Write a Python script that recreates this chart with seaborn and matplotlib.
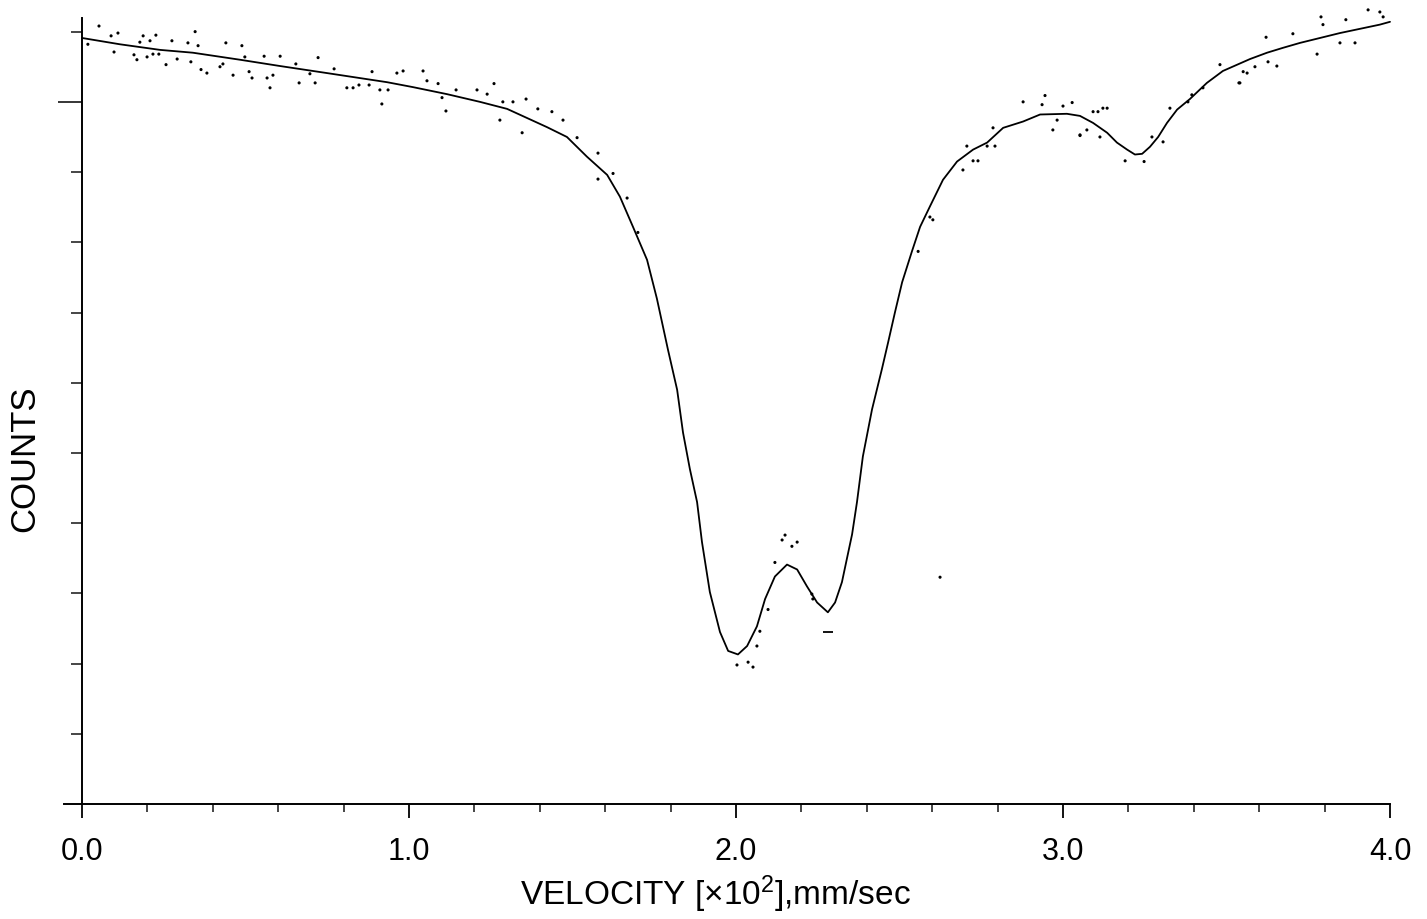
import numpy as np
import pandas as pd
import matplotlib
matplotlib.use("Agg")
import matplotlib.pyplot as plt
import seaborn as sns
from matplotlib.ticker import FixedLocator

# ---- fitted curve (velocity x10^2 mm/s, counts in tick units) ----
fit_x = [0.000, 0.116, 0.239, 0.339, 0.483, 0.606, 0.749, 0.933, 1.012, 1.116,
         1.217, 1.300, 1.361, 1.422, 1.483, 1.544, 1.606, 1.645, 1.685, 1.728,
         1.758, 1.792, 1.820, 1.838, 1.859, 1.881, 1.896, 1.920, 1.951, 1.976,
         2.006, 2.034, 2.064, 2.089, 2.119, 2.156, 2.187, 2.217, 2.248, 2.281,
         2.303, 2.324, 2.339, 2.355, 2.370, 2.388, 2.416, 2.446, 2.465, 2.486,
         2.508, 2.538, 2.563, 2.593, 2.633, 2.676, 2.725, 2.768, 2.817, 2.878,
         2.930, 3.012, 3.052, 3.092, 3.135, 3.165, 3.196, 3.220, 3.242, 3.266,
         3.291, 3.318, 3.349, 3.388, 3.440, 3.489, 3.572, 3.624, 3.673, 3.725,
         3.786, 3.847, 3.908, 3.969, 4.000]
fit_y = [10.91, 10.82, 10.74, 10.70, 10.60, 10.51, 10.41, 10.28, 10.21, 10.11,
         10.00, 9.90, 9.77, 9.64, 9.50, 9.22, 8.96, 8.65, 8.22, 7.75,
         7.20, 6.47, 5.90, 5.29, 4.77, 4.30, 3.73, 3.02, 2.45, 2.18,
         2.13, 2.25, 2.53, 2.92, 3.24, 3.41, 3.34, 3.10, 2.87, 2.73,
         2.87, 3.16, 3.49, 3.84, 4.30, 4.95, 5.62, 6.19, 6.57, 7.00,
         7.43, 7.87, 8.22, 8.51, 8.89, 9.15, 9.32, 9.42, 9.63, 9.72,
         9.82, 9.83, 9.80, 9.70, 9.56, 9.42, 9.32, 9.25, 9.26, 9.36,
         9.50, 9.70, 9.89, 10.04, 10.27, 10.44, 10.61, 10.70, 10.77, 10.84,
         10.91, 10.98, 11.04, 11.10, 11.14]

pts_x = [0.052, 0.018, 0.089, 0.110, 0.098, 0.159, 0.168, 0.187, 0.177, 0.208,
         0.226, 0.217, 0.235, 0.199, 0.257, 0.275, 0.291, 0.324, 0.333, 0.346,
         0.355, 0.364, 0.382, 0.440, 0.422, 0.431, 0.462, 0.489, 0.498, 0.511,
         0.520, 0.557, 0.566, 0.575, 0.584, 0.606, 0.664, 0.654, 0.697, 0.713,
         0.722, 0.771, 0.810, 0.829, 0.847, 0.878, 0.887, 0.911, 0.917, 0.936,
         0.963, 0.982, 1.043, 1.055, 1.089, 1.101, 1.113, 1.144, 1.260, 1.208,
         1.239, 1.287, 1.318, 1.358, 1.394, 1.437, 1.471, 1.278, 1.346, 1.514,
         1.578, 1.578, 1.624, 1.667, 1.700,
         2.003, 2.037, 2.052, 2.064, 2.073, 2.098, 2.141, 2.150, 2.171, 2.187,
         2.119, 2.232, 2.235, 2.624,
         2.725, 2.740, 2.694, 2.706, 2.768, 2.792, 2.786, 2.878, 2.936, 2.945,
         2.969, 3.000, 3.028, 2.982, 3.052, 3.073, 3.107, 3.135, 2.602, 2.557,
         2.593, 3.052, 3.092, 3.122, 3.113, 3.190, 3.248, 3.272, 3.306, 3.382,
         3.428, 3.541, 3.480, 3.563, 3.621, 3.703, 3.789, 3.795, 3.865, 3.933,
         3.969, 3.979, 3.893, 3.847, 3.777, 3.654, 3.627, 3.587, 3.551, 3.538,
         3.394, 3.327]
pts_y = [11.08, 10.82, 10.94, 10.98, 10.71, 10.67, 10.60, 10.94, 10.85, 10.87,
         10.95, 10.68, 10.68, 10.64, 10.53, 10.87, 10.61, 10.84, 10.57, 11.00,
         10.80, 10.46, 10.41, 10.84, 10.50, 10.54, 10.38, 10.80, 10.64, 10.43,
         10.34, 10.65, 10.34, 10.20, 10.38, 10.65, 10.27, 10.54, 10.40, 10.27,
         10.63, 10.47, 10.20, 10.20, 10.24, 10.24, 10.43, 10.17, 9.97, 10.17,
         10.41, 10.44, 10.44, 10.30, 10.26, 10.06, 9.87, 10.17, 10.26, 10.17,
         10.11, 10.00, 10.00, 10.04, 9.90, 9.86, 9.74, 9.74, 9.56, 9.49,
         9.27, 8.90, 8.98, 8.63, 8.14,
         1.98, 2.02, 1.95, 2.25, 2.46, 2.77, 3.76, 3.83, 3.67, 3.73,
         3.44, 2.99, 2.92, 3.23,
         9.16, 9.16, 9.03, 9.37, 9.37, 9.37, 9.63, 10.00, 9.96, 10.09,
         9.60, 9.94, 9.99, 9.74, 9.53, 9.60, 9.86, 9.91, 8.32, 7.87,
         8.36, 9.52, 9.86, 9.91, 9.50, 9.16, 9.15, 9.50, 9.43, 10.00,
         10.20, 10.27, 10.53, 10.41, 10.92, 10.97, 11.21, 11.10, 11.17, 11.31,
         11.28, 11.21, 10.84, 10.84, 10.68, 10.51, 10.57, 10.50, 10.43, 10.27,
         10.10, 9.91]

# short dash mark below the second minimum
dash_x = [2.281]
dash_y = [2.45]

x_major = [0.0, 1.0, 2.0, 3.0, 4.0]
x_labels = ["0.0", "1.0", "2.0", "3.0", "4.0"]
x_minor = [0.2, 0.4, 0.6, 0.8, 1.2, 1.4, 1.6, 1.8, 2.2, 2.4, 2.6, 2.8,
           3.2, 3.4, 3.6, 3.8]
y_long_ticks = [10]
y_short_ticks = [1, 2, 3, 4, 5, 6, 7, 8, 9, 11]

sns.set_style("ticks")
plt.rcParams["font.family"] = ["Liberation Sans", "DejaVu Sans"]
plt.rcParams["mathtext.fontset"] = "custom"
plt.rcParams["mathtext.rm"] = "Liberation Sans"
plt.rcParams["mathtext.it"] = "Liberation Sans:italic"
plt.rcParams["mathtext.bf"] = "Liberation Sans:bold"

fig = plt.figure(figsize=(14.27, 9.2), dpi=100)
ax = fig.add_axes([64 / 1427, 115 / 920, 1326 / 1427, 786.4 / 920])

fit_df = pd.DataFrame({"v": fit_x, "c": fit_y})
pts_df = pd.DataFrame({"v": pts_x, "c": pts_y})
dash_df = pd.DataFrame({"v": dash_x, "c": dash_y})

sns.scatterplot(data=pts_df, x="v", y="c", ax=ax, s=5, color="black",
                edgecolor="none", clip_on=False, zorder=3)
sns.scatterplot(data=dash_df, x="v", y="c", ax=ax, s=60, marker="_",
                color="black", linewidth=1.3, zorder=3)
sns.lineplot(data=fit_df, x="v", y="c", ax=ax, estimator=None, sort=False,
             color="black", lw=1.3, clip_on=False, zorder=4)

ax.set_xlim(-0.055, 4.0)
ax.set_ylim(0, 11.2)
ax.spines["left"].set_position(("data", 0))
ax.spines["top"].set_visible(False)
ax.spines["right"].set_visible(False)
for s in ("left", "bottom"):
    ax.spines[s].set_linewidth(1.4)
    ax.spines[s].set_color("black")

ax.xaxis.set_major_locator(FixedLocator(x_major))
ax.xaxis.set_minor_locator(FixedLocator(x_minor))
ax.set_xticklabels(x_labels)
ax.yaxis.set_major_locator(FixedLocator(y_long_ticks))
ax.yaxis.set_minor_locator(FixedLocator(y_short_ticks))
ax.set_yticklabels([])

ax.tick_params(axis="x", which="major", direction="out", length=10, width=1.3,
               pad=13, labelsize=22, colors="black")
ax.tick_params(axis="x", which="minor", direction="out", length=6, width=1.2)
ax.tick_params(axis="y", which="major", direction="out", length=17, width=1.3)
ax.tick_params(axis="y", which="minor", direction="out", length=8, width=1.2)

ax.set_xlabel(r"VELOCITY [×10$^{\mathregular{2}}$],mm/sec", fontsize=24,
              va="center", color="black")
ax.xaxis.set_label_coords(0.491, -0.113)
ax.set_ylabel("COUNTS", fontsize=25, va="center", color="black")
ax.yaxis.set_label_coords(-0.0294, 0.441)

fig.savefig("out.png", dpi=100, facecolor="white")
